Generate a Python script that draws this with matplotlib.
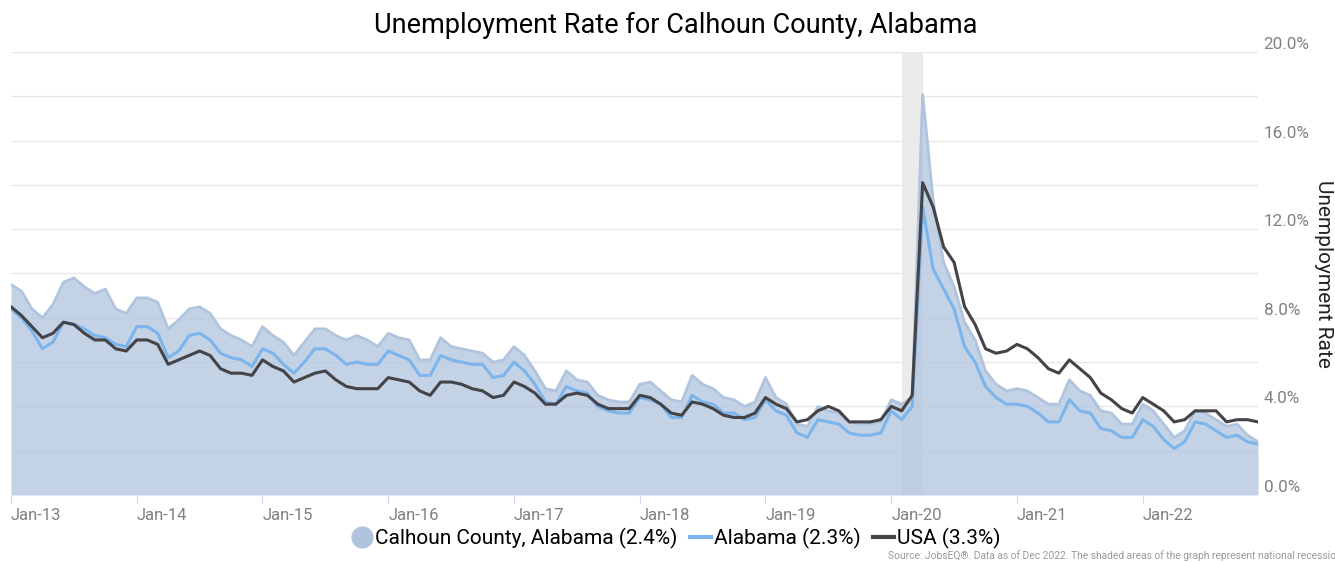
import numpy as np
import matplotlib.pyplot as plt
from matplotlib.lines import Line2D

plt.rcParams['font.family'] = ['Roboto', 'DejaVu Sans']

# monthly unemployment rate (%), Jan 2013 - Dec 2022
calhoun = [
    9.5, 9.2, 8.4, 8.0, 8.6, 9.6, 9.8, 9.4, 9.1, 9.3, 8.4, 8.2,
    8.9, 8.9, 8.7, 7.5, 7.9, 8.4, 8.5, 8.2, 7.5, 7.2, 7.0, 6.7,
    7.6, 7.2, 6.9, 6.3, 6.9, 7.5, 7.5, 7.2, 7.0, 7.2, 7.0, 6.7,
    7.3, 7.1, 7.0, 6.1, 6.1, 7.1, 6.7, 6.6, 6.5, 6.4, 6.0, 6.1,
    6.7, 6.3, 5.6, 4.8, 4.7, 5.6, 5.2, 5.1, 4.5, 4.3, 4.2, 4.2,
    5.0, 5.1, 4.7, 4.3, 4.2, 5.4, 5.0, 4.8, 4.4, 4.3, 4.0, 4.2,
    5.3, 4.4, 4.1, 3.2, 3.1, 4.0, 3.8, 3.7, 3.3, 3.2, 3.2, 3.3,
    4.3, 4.1, 4.4, 18.1, 13.3, 10.5, 9.4, 7.8, 7.0, 5.6, 5.0, 4.7,
    4.8, 4.7, 4.4, 4.1, 4.1, 5.2, 4.7, 4.5, 3.8, 3.7, 3.2, 3.2,
    4.1, 3.8, 3.2, 2.6, 2.9, 3.8, 3.7, 3.4, 3.1, 3.2, 2.7, 2.4,
]
alabama = [
    8.4, 8.0, 7.4, 6.6, 6.9, 7.8, 7.7, 7.5, 7.2, 7.1, 6.8, 6.7,
    7.6, 7.6, 7.3, 6.2, 6.5, 7.2, 7.3, 7.0, 6.4, 6.2, 6.1, 5.8,
    6.6, 6.4, 5.9, 5.5, 6.0, 6.6, 6.6, 6.3, 5.9, 6.0, 5.9, 5.9,
    6.5, 6.3, 6.1, 5.4, 5.4, 6.3, 6.1, 6.0, 5.9, 5.9, 5.3, 5.4,
    6.0, 5.6, 5.0, 4.2, 4.1, 4.9, 4.7, 4.6, 4.0, 3.8, 3.7, 3.7,
    4.4, 4.3, 4.1, 3.5, 3.5, 4.5, 4.2, 4.1, 3.7, 3.7, 3.4, 3.5,
    4.3, 3.8, 3.6, 2.8, 2.6, 3.4, 3.3, 3.2, 2.8, 2.7, 2.7, 2.8,
    3.8, 3.4, 4.0, 13.0, 10.2, 9.3, 8.4, 6.7, 6.0, 4.9, 4.4, 4.1,
    4.1, 4.0, 3.7, 3.3, 3.3, 4.3, 3.8, 3.7, 3.0, 2.9, 2.6, 2.6,
    3.4, 3.1, 2.5, 2.1, 2.4, 3.3, 3.2, 2.9, 2.6, 2.7, 2.4, 2.3,
]
usa = [
    8.5, 8.1, 7.6, 7.1, 7.3, 7.8, 7.7, 7.3, 7.0, 7.0, 6.6, 6.5,
    7.0, 7.0, 6.8, 5.9, 6.1, 6.3, 6.5, 6.3, 5.7, 5.5, 5.5, 5.4,
    6.1, 5.8, 5.6, 5.1, 5.3, 5.5, 5.6, 5.2, 4.9, 4.8, 4.8, 4.8,
    5.3, 5.2, 5.1, 4.7, 4.5, 5.1, 5.1, 5.0, 4.8, 4.7, 4.4, 4.5,
    5.1, 4.9, 4.6, 4.1, 4.1, 4.5, 4.6, 4.5, 4.1, 3.9, 3.9, 3.9,
    4.5, 4.4, 4.1, 3.7, 3.6, 4.2, 4.1, 3.9, 3.6, 3.5, 3.5, 3.7,
    4.4, 4.1, 3.9, 3.3, 3.4, 3.8, 4.0, 3.8, 3.3, 3.3, 3.3, 3.4,
    4.0, 3.8, 4.5, 14.1, 13.0, 11.2, 10.5, 8.5, 7.7, 6.6, 6.4, 6.5,
    6.8, 6.6, 6.2, 5.7, 5.5, 6.1, 5.7, 5.3, 4.6, 4.3, 3.9, 3.7,
    4.4, 4.1, 3.8, 3.3, 3.4, 3.8, 3.8, 3.8, 3.3, 3.4, 3.4, 3.3,
]
x_labels = ['Jan-13', 'Jan-14', 'Jan-15', 'Jan-16', 'Jan-17',
            'Jan-18', 'Jan-19', 'Jan-20', 'Jan-21', 'Jan-22']
series_names = ['Calhoun County, Alabama (2.4%)', 'Alabama (2.3%)', 'USA (3.3%)']
recession = (85, 87)  # Feb 2020 - Apr 2020, month index

months = np.arange(len(calhoun))

fig = plt.figure(figsize=(13.35, 5.63), dpi=100)
ax = fig.add_axes([11 / 1335, 1 - 495 / 563, 1247 / 1335, 443 / 563])

ax.axvspan(recession[0], recession[1], color='#ebebeb', lw=0, zorder=0)
ax.fill_between(months, calhoun, color='#b0c4de', alpha=0.75, lw=0, zorder=1)
ax.plot(months, calhoun, color='#b0c4de', lw=2, zorder=2)
ax.plot(months, alabama, color='#7cb5ec', lw=2.2, zorder=3)
ax.plot(months, usa, color='#434348', lw=2.2, zorder=4)

ax.set_xlim(0, len(calhoun) - 1)
ax.set_ylim(0, 20)

yt = np.arange(0, 21, 2)
ax.set_yticks(yt)
ax.set_yticklabels([f'{v:.1f}%' if v % 4 == 0 else '' for v in yt], va='bottom')
ax.yaxis.tick_right()
ax.tick_params(axis='y', length=0, pad=4, labelsize=12.3, labelcolor='#808080')
ax.yaxis.grid(True, color='#e9e9e9', lw=1)
ax.set_axisbelow(True)

ax.set_xticks(months[::12])
ax.set_xticklabels(x_labels, ha='left')
ax.tick_params(axis='x', length=6, color='#ccd6eb', pad=3, labelsize=12, labelcolor='#808080')

for s in ax.spines.values():
    s.set_visible(False)

fig.text(676 / 1335, 1 - 25 / 563, 'Unemployment Rate for Calhoun County, Alabama',
         ha='center', va='center', fontsize=19.5, color='#000000')
fig.text(1323 / 1335, 1 - 274 / 563, 'Unemployment Rate', rotation=270,
         ha='center', va='center', fontsize=15, color='#222222')

handles = [
    Line2D([], [], marker='o', ls='none', markersize=15, color='#b0c4de'),
    Line2D([], [], color='#7cb5ec', lw=3),
    Line2D([], [], color='#434348', lw=3),
]
fig.legend(handles, series_names, loc='center', bbox_to_anchor=(676 / 1335, 1 - 538 / 563),
           ncol=3, frameon=False, fontsize=15, handlelength=1.0, handletextpad=0.15,
           columnspacing=0.6, borderpad=0)

# the reference cuts this note off at the right edge of the image
fig.text(888 / 1335, 1 - 556 / 563,
         'Source: JobsEQ®. Data as of Dec 2022. The shaded areas of the graph represent national recessions.',
         ha='left', va='center', fontsize=7.4, color='#999999')

fig.savefig('out.png', dpi=100)
